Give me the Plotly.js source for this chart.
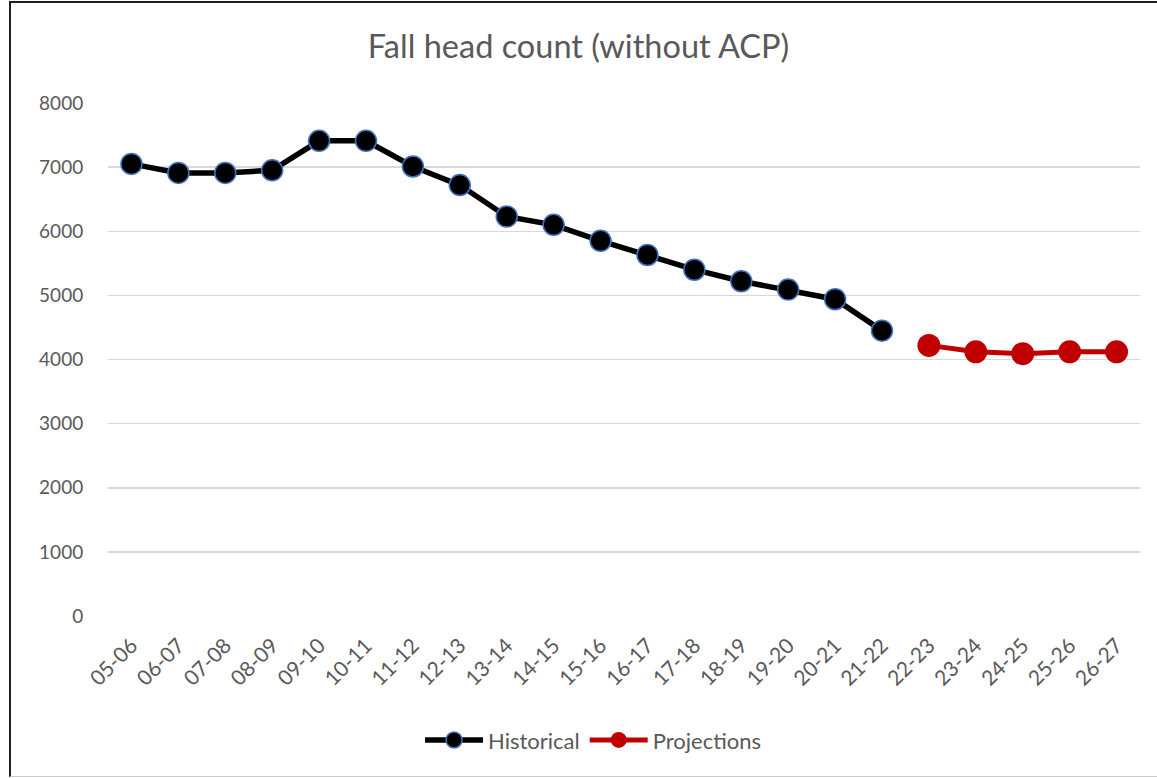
<!DOCTYPE html>
<html>
<head>
<meta charset="utf-8">
<script src="https://cdn.plot.ly/plotly-3.0.1.min.js"></script>
<style>
html,body{margin:0;padding:0;background:#fff;overflow:hidden;}
#chart{position:absolute;left:0;top:0;width:1157px;height:778px;}
#frame{position:absolute;left:9px;top:1px;width:1200px;height:773px;border-left:2px solid #1e1e1e;border-top:2px solid #1e1e1e;border-bottom:1px solid #cfcfcf;pointer-events:none;}
</style>
</head>
<body>
<div id="chart"></div>
<div id="frame"></div>
<script>
const categories = ["05-06","06-07","07-08","08-09","09-10","10-11","11-12","12-13","13-14","14-15","15-16","16-17","17-18","18-19","19-20","20-21","21-22","22-23","23-24","24-25","25-26","26-27"];
const historicalYears = ["05-06","06-07","07-08","08-09","09-10","10-11","11-12","12-13","13-14","14-15","15-16","16-17","17-18","18-19","19-20","20-21","21-22"];
const historicalValues = [7050,6910,6910,6950,7410,7410,7010,6720,6230,6100,5850,5630,5400,5220,5090,4940,4450];
const projectionYears = ["22-23","23-24","24-25","25-26","26-27"];
const projectionValues = [4220,4120,4090,4120,4120];
const yTicks = [0,1000,2000,3000,4000,5000,6000,7000,8000];

const FONT = "Lato, 'Open Sans', sans-serif";
const GREY = "#595959";

const traces = [
  {
    x: historicalYears, y: historicalValues, name: "Historical",
    type: "scatter", mode: "lines+markers",
    line: {color: "#000000", width: 5.5},
    marker: {color: "#000000", size: 21, line: {color: "#4472C4", width: 1.5}}
  },
  {
    x: projectionYears, y: projectionValues, name: "Projections",
    type: "scatter", mode: "lines+markers",
    line: {color: "#C00000", width: 5},
    marker: {color: "#C00000", size: 23, line: {color: "#C00000", width: 0}}
  }
];

const layout = {
  width: 1157, height: 778,
  margin: {l: 108, r: 17, t: 103, b: 162},
  paper_bgcolor: "#ffffff", plot_bgcolor: "#ffffff",
  title: {text: "Fall head count (without ACP)", font: {family: FONT, size: 32.5, color: GREY}, x: 0.5, xanchor: "center", y: 0.94, yanchor: "middle"},
  font: {family: FONT, color: GREY},
  showlegend: true,
  legend: {orientation: "h", x: 0.47, xanchor: "center", y: -0.242, yanchor: "middle", font: {family: FONT, size: 22, color: GREY}, itemwidth: 58, tracegroupgap: 0},
  xaxis: {
    type: "category", categoryorder: "array", categoryarray: categories,
    range: [-0.5, categories.length - 0.5],
    tickangle: -45, tickfont: {family: FONT, size: 21, color: GREY},
    showgrid: false, zeroline: false, showline: false,
    ticks: "outside", ticklen: 8, tickcolor: "rgba(0,0,0,0)"
  },
  yaxis: {
    range: [0, 8000], tickvals: yTicks, ticktext: yTicks.map(String),
    tickfont: {family: FONT, size: 19, color: GREY},
    showgrid: true, gridcolor: "#D9D9D9", gridwidth: 1.5,
    zeroline: false, showline: false,
    ticks: "outside", ticklen: 20, tickcolor: "rgba(0,0,0,0)"
  }
};

Plotly.newPlot("chart", traces, layout, {displayModeBar: false, staticPlot: true});
</script>
</body>
</html>
